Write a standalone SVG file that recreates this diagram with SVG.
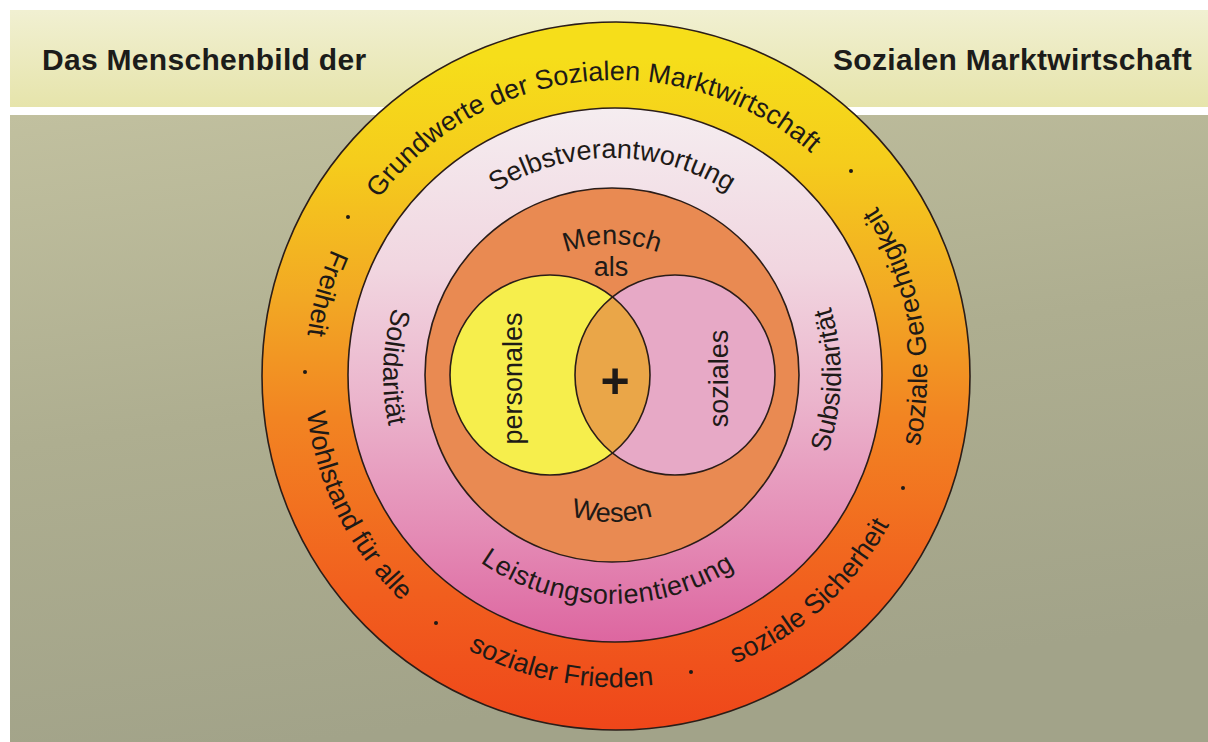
<svg xmlns="http://www.w3.org/2000/svg" width="1208" height="742" viewBox="0 0 1208 742">
  <defs>
    <linearGradient id="bandFill" x1="0" y1="0" x2="0" y2="1">
      <stop offset="0" stop-color="#f1f0d2"/>
      <stop offset="1" stop-color="#e6e4ab"/>
    </linearGradient>
    <linearGradient id="groundFill" x1="0" y1="0" x2="0.25" y2="1">
      <stop offset="0" stop-color="#c1c09f"/>
      <stop offset="0.5" stop-color="#aeae90"/>
      <stop offset="1" stop-color="#a2a389"/>
    </linearGradient>
    <linearGradient id="outerFill" gradientUnits="userSpaceOnUse" x1="0" y1="22" x2="0" y2="730">
      <stop offset="0.05" stop-color="#f6de1a"/>
      <stop offset="0.2" stop-color="#f5cc1c"/>
      <stop offset="0.39" stop-color="#f2a824"/>
      <stop offset="0.56" stop-color="#f28422"/>
      <stop offset="0.81" stop-color="#f15e1e"/>
      <stop offset="1" stop-color="#ef461a"/>
    </linearGradient>
    <linearGradient id="pinkFill" gradientUnits="userSpaceOnUse" x1="0" y1="108" x2="0" y2="642">
      <stop offset="0" stop-color="#f5edf0"/>
      <stop offset="0.3" stop-color="#f1d6e0"/>
      <stop offset="0.55" stop-color="#ebb4cc"/>
      <stop offset="0.8" stop-color="#e48bb5"/>
      <stop offset="1" stop-color="#dd66a0"/>
    </linearGradient>
    <clipPath id="socialClip">
      <circle cx="675" cy="375" r="100"/>
    </clipPath>
    <!-- baseline arcs for the ring labels -->
    <path id="arcOuterTop" d="M324.5,324.6 A296,296 0 0 1 907.5,324.6"/>
    <path id="arcOuterBottom" d="M309.7,430 A311,311 0 0 0 922.3,430"/>
    <path id="arcPinkTop" d="M398.3,337.3 A217,217 0 0 1 825.7,337.3"/>
    <path id="arcPinkBottom" d="M386.5,414.8 A229,229 0 0 0 837.5,414.8"/>
    <path id="arcMensch" d="M488.9,330.2 A131,131 0 0 1 735.1,330.2"/>
    <path id="arcWesen" d="M473.9,425.3 A147,147 0 0 0 750.1,425.3"/>
  </defs>
  <style>
    .ring { stroke: #2b1d18; stroke-width: 1.6; }
    .lbl { font-family: "Liberation Sans", Arial, Helvetica, sans-serif; font-size: 27px; fill: #1e1a17; }
    .head { font-family: "Liberation Sans", Arial, Helvetica, sans-serif; font-weight: bold; font-size: 30px; fill: #1c1c1a; }
    .plus { font-family: "Liberation Sans", Arial, Helvetica, sans-serif; font-weight: bold; font-size: 50px; fill: #1e1a17; }
    .dot { fill: #1e1a17; }
  </style>

  <!-- page -->
  <rect x="0" y="0" width="1208" height="742" fill="#ffffff"/>
  <g id="header">
    <rect x="10" y="10" width="1198" height="97" fill="url(#bandFill)"/>
    <text class="head" x="42" y="70" letter-spacing="0.3">Das Menschenbild der</text>
    <text class="head" x="1192" y="70" text-anchor="end" letter-spacing="0.3">Sozialen Marktwirtschaft</text>
  </g>
  <rect id="ground" x="10" y="115" width="1198" height="627" fill="url(#groundFill)"/>

  <!-- outer ring: basic values -->
  <g id="ring-grundwerte">
    <circle class="ring" cx="616" cy="376" r="354" fill="url(#outerFill)"/>
    <text class="lbl" transform="rotate(-6 616 376)"><textPath href="#arcOuterTop" startOffset="50%" text-anchor="middle">Grundwerte der Sozialen Marktwirtschaft</textPath></text>
    <text class="lbl" transform="rotate(105.8 616 376)"><textPath href="#arcOuterBottom" startOffset="50%" text-anchor="middle">Freiheit</textPath></text>
    <text class="lbl" transform="rotate(63.4 616 376)"><textPath href="#arcOuterBottom" startOffset="50%" text-anchor="middle">Wohlstand für alle</textPath></text>
    <text class="lbl" transform="rotate(10.7 616 376)"><textPath href="#arcOuterBottom" startOffset="50%" text-anchor="middle">sozialer Frieden</textPath></text>
    <text class="lbl" transform="rotate(-42 616 376)"><textPath href="#arcOuterBottom" startOffset="50%" text-anchor="middle">soziale Sicherheit</textPath></text>
    <text class="lbl" transform="rotate(-100 616 376)"><textPath href="#arcOuterBottom" startOffset="50%" text-anchor="middle">soziale Gerechtigkeit</textPath></text>
    <circle class="dot" cx="348" cy="217" r="2"/>
    <circle class="dot" cx="305" cy="372" r="2"/>
    <circle class="dot" cx="436" cy="623" r="2"/>
    <circle class="dot" cx="691" cy="672" r="2"/>
    <circle class="dot" cx="903" cy="488" r="2"/>
    <circle class="dot" cx="851" cy="171" r="2"/>
  </g>

  <!-- middle ring: principles -->
  <g id="ring-prinzipien">
    <circle class="ring" cx="615" cy="375" r="267" fill="url(#pinkFill)"/>
    <text class="lbl"><textPath href="#arcPinkTop" startOffset="50%" text-anchor="middle">Selbstverantwortung</textPath></text>
    <text class="lbl" transform="rotate(1.3 612 375)" letter-spacing="0.6"><textPath href="#arcPinkBottom" startOffset="50%" text-anchor="middle">Leistungsorientierung</textPath></text>
    <text class="lbl" transform="rotate(92.1 612 375)"><textPath href="#arcPinkBottom" startOffset="50%" text-anchor="middle">Solidarität</textPath></text>
    <text class="lbl" transform="rotate(-88.7 612 375)"><textPath href="#arcPinkBottom" startOffset="50%" text-anchor="middle">Subsidiarität</textPath></text>
  </g>

  <!-- inner disc: the human being -->
  <g id="disc-mensch">
    <circle class="ring" cx="612" cy="375" r="187" fill="#e98a52"/>
    <text class="lbl"><textPath href="#arcMensch" startOffset="50%" text-anchor="middle">Mensch</textPath></text>
    <text class="lbl" x="611" y="275.5" text-anchor="middle">als</text>
    <text class="lbl"><textPath href="#arcWesen" startOffset="50%" text-anchor="middle">Wesen</textPath></text>
  </g>

  <!-- two overlapping circles -->
  <g id="circle-personales">
    <circle cx="550" cy="375" r="100" fill="#f6ee4c"/>
  </g>
  <g id="circle-soziales">
    <circle cx="675" cy="375" r="100" fill="#e7a9c6"/>
  </g>
  <g id="overlap">
    <circle cx="550" cy="375" r="100" fill="#eaa648" clip-path="url(#socialClip)"/>
    <circle class="ring" cx="550" cy="375" r="100" fill="none"/>
    <circle class="ring" cx="675" cy="375" r="100" fill="none"/>
    <text class="plus" x="615" y="398" text-anchor="middle">+</text>
  </g>
  <text class="lbl" transform="translate(522 378.5) rotate(-90)" text-anchor="middle">personales</text>
  <text class="lbl" transform="translate(728 378.5) rotate(-90)" text-anchor="middle">soziales</text>
</svg>
